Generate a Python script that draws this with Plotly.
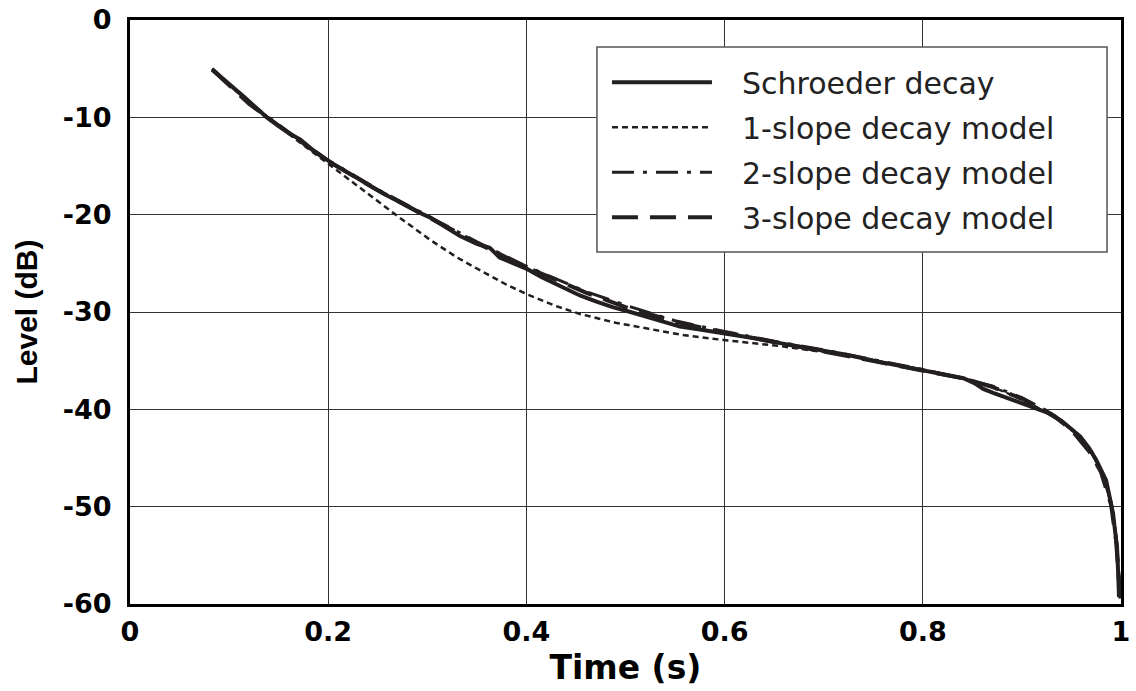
import plotly.graph_objects as go

# ---------------- data ----------------
t_schroeder = [0.083, 0.095, 0.104, 0.115, 0.125, 0.138, 0.150, 0.160, 0.172, 0.185,
               0.202, 0.220, 0.239, 0.255, 0.272, 0.290, 0.303, 0.318, 0.333, 0.350,
               0.363, 0.373, 0.388, 0.401, 0.415, 0.427, 0.440, 0.454, 0.470, 0.487,
               0.505, 0.522, 0.540, 0.555, 0.575, 0.601, 0.630, 0.656, 0.690, 0.723,
               0.760, 0.800, 0.820, 0.841, 0.852, 0.861, 0.871, 0.890, 0.911, 0.925,
               0.940, 0.959, 0.968, 0.975, 0.985, 0.990, 0.992, 0.994, 0.996, 0.997, 0.998]
db_schroeder = [-5.1, -6.2, -6.9, -7.9, -8.8, -10.0, -10.9, -11.6, -12.3, -13.4,
                -14.6, -15.7, -16.8, -17.8, -18.7, -19.7, -20.3, -21.2, -22.2, -23.0,
                -23.4, -24.4, -25.0, -25.6, -26.4, -27.0, -27.7, -28.3, -28.9, -29.5,
                -30.0, -30.5, -31.0, -31.5, -31.8, -32.2, -32.7, -33.2, -33.8, -34.4,
                -35.2, -36.0, -36.4, -36.8, -37.3, -37.9, -38.3, -39.0, -39.7, -40.3,
                -41.2, -42.8, -44.0, -45.2, -47.3, -49.5, -50.7, -52.5, -54.1, -56.5, -59.3]

t_slope1 = [0.083, 0.12, 0.16, 0.20, 0.24, 0.272, 0.303, 0.33, 0.353, 0.38,
            0.401, 0.43, 0.454, 0.49, 0.522, 0.56, 0.601, 0.656, 0.72, 0.80,
            0.85, 0.88, 0.91, 0.94, 0.96, 0.975, 0.985, 0.992, 0.996, 0.999]
db_slope1 = [-5.0, -8.4, -11.7, -14.8, -17.9, -20.3, -22.6, -24.4, -25.7, -27.2,
             -28.2, -29.4, -30.2, -31.1, -31.7, -32.4, -32.9, -33.5, -34.4, -35.9,
             -37.0, -38.1, -39.5, -41.2, -43.0, -45.2, -47.4, -50.8, -54.5, -59.8]

t_slope2 = [0.083, 0.12, 0.16, 0.20, 0.25, 0.30, 0.35, 0.40, 0.43, 0.46, 0.50,
            0.55, 0.60, 0.65, 0.70, 0.75, 0.80, 0.84, 0.87, 0.90, 0.93, 0.95,
            0.97, 0.98, 0.99, 0.995, 0.999]
db_slope2 = [-5.0, -8.5, -11.5, -14.4, -17.4, -20.1, -22.8, -25.3, -26.6, -27.9, -29.3,
             -30.9, -32.0, -33.0, -33.9, -34.9, -35.9, -36.8, -37.6, -38.8, -40.4, -42.0,
             -44.4, -46.3, -49.5, -53.0, -58.5]

t_slope3 = [0.083, 0.12, 0.16, 0.20, 0.25, 0.30, 0.35, 0.40, 0.43, 0.46, 0.50,
            0.55, 0.60, 0.65, 0.70, 0.75, 0.80, 0.84, 0.87, 0.90, 0.93, 0.95,
            0.97, 0.98, 0.99, 0.995, 0.999]
db_slope3 = [-5.1, -8.6, -11.6, -14.5, -17.5, -20.2, -22.9, -25.4, -26.7, -28.0, -29.5,
             -31.0, -32.1, -33.1, -34.0, -35.0, -36.0, -36.8, -37.7, -38.9, -40.5, -42.1,
             -44.6, -46.5, -49.8, -53.5, -59.0]

series_names = ["Schroeder decay", "1-slope decay model",
                "2-slope decay model", "3-slope decay model"]

x_ticks = [0, 0.2, 0.4, 0.6, 0.8, 1]
x_tick_labels = ["0", "0.2", "0.4", "0.6", "0.8", "1"]
y_ticks = [0, -10, -20, -30, -40, -50, -60]
y_tick_labels = ["0", "-10", "-20", "-30", "-40", "-50", "-60"]

# ---------------- figure ----------------
INK = "#231f20"
PAD = "\u00a0\u00a0\u2009"  # gap between legend sample and label
fig = go.Figure()

fig.add_trace(go.Scatter(x=t_schroeder, y=db_schroeder, mode="lines",
                         name=PAD + series_names[0], legendgroup="a",
                         line=dict(color=INK, width=4, dash="solid")))
fig.add_trace(go.Scatter(x=t_slope1, y=db_slope1, mode="lines",
                         name=PAD + series_names[1], legendgroup="b",
                         line=dict(color=INK, width=2.5, dash="6px,4px")))
fig.add_trace(go.Scatter(x=t_slope2, y=db_slope2, mode="lines",
                         name=PAD + series_names[2], legendgroup="c",
                         line=dict(color=INK, width=3, dash="22px,9px,4px,9px")))
fig.add_trace(go.Scatter(x=t_slope3, y=db_slope3, mode="lines",
                         name=PAD + series_names[3], legendgroup="d",
                         line=dict(color=INK, width=4, dash="26px,12px")))

tick_font = dict(family="DejaVu Sans", size=27, color="black", weight="bold")

# legend frame (drawn as a white box in paper coordinates)
fig.add_shape(type="rect", xref="paper", yref="paper",
              x0=0.4712, x1=0.9859, y0=0.6027, y1=0.9538,
              line=dict(color="#555555", width=1.5), fillcolor="white", layer="above")

fig.update_layout(
    width=1136, height=691,
    margin=dict(l=130, r=15, t=20, b=87, autoexpand=False),
    paper_bgcolor="white", plot_bgcolor="white",
    showlegend=True,
    hovermode=False,
    legend=dict(
        x=0.4813, y=0.938, xanchor="left", yanchor="top",
        bgcolor="rgba(0,0,0,0)", borderwidth=0,
        font=dict(family="DejaVu Sans", size=30, color="#222222"),
        itemwidth=100, tracegroupgap=3, traceorder="grouped",
    ),
    xaxis=dict(
        range=[0, 1], tickvals=x_ticks, ticktext=x_tick_labels,
        showgrid=True, gridcolor="#333333", gridwidth=1,
        showline=True, linecolor="black", linewidth=3, mirror=True,
        ticks="", tickfont=tick_font, zeroline=False, automargin=False,
        ticklabelstandoff=2, ticklabeloverflow="allow",
        title=dict(text="Time (s)", standoff=10,
                   font=dict(family="DejaVu Sans", size=33, color="black", weight="bold")),
    ),
    yaxis=dict(
        range=[-60, 0], tickvals=y_ticks, ticktext=y_tick_labels,
        showgrid=True, gridcolor="#333333", gridwidth=1,
        showline=True, linecolor="black", linewidth=3, mirror=True,
        ticks="", tickfont=tick_font, zeroline=False, automargin=False,
        ticklabelstandoff=10, ticklabeloverflow="allow",
        title=dict(text="Level (dB)", standoff=17,
                   font=dict(family="Liberation Sans", size=30, color="black", weight="bold")),
    ),
)

fig.write_html("out.html", config={"displayModeBar": False},
               post_script="document.body.style.margin='0';")
